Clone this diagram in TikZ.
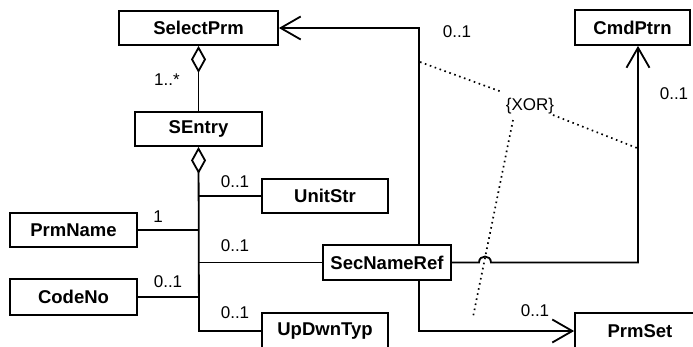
\documentclass[tikz,border=0pt]{standalone}
\usepackage{fontspec}
\setmainfont{Liberation Sans}
\usetikzlibrary{arrows.meta}
\begin{document}
\begin{tikzpicture}[x=1pt,y=-1pt,
  cls/.style={draw,line width=1.8pt,inner sep=0pt,font=\bfseries\fontsize{18.5}{20}\selectfont},
  lbl/.style={inner sep=0pt,font=\fontsize{17}{19}\selectfont},
  conn/.style={line width=1.8pt},
  agg/.style={conn,{Diamond[open,length=27pt,width=15pt,line width=1.8pt]}-},
  nav/.style={conn,-{Straight Barb[length=20pt,width=23pt,line width=1.8pt]}},
  dots/.style={line width=1.7pt,dash pattern=on 1.6pt off 3.6pt}]
\useasboundingbox (0,0) rectangle (693,346);
\clip (0,0) rectangle (693,346);
% classes
\node[cls,minimum width=159pt,minimum height=34pt] (sel) at (198.5,28) {SelectPrm};
\node[cls,minimum width=127pt,minimum height=34pt] (sen) at (198.5,129) {SEntry};
\node[cls,minimum width=126pt,minimum height=34pt] (uni) at (325,196) {UnitStr};
\node[cls,minimum width=127pt,minimum height=34pt] (prn) at (73.5,230) {PrmName};
\node[cls,minimum width=128pt,minimum height=35pt] (snr) at (387,262.5) {SecNameRef};
\node[cls,minimum width=127pt,minimum height=36pt] (cod) at (73.5,297) {CodeNo};
\node[cls,minimum width=126pt,minimum height=36pt] (udt) at (325,331) {UpDwnTyp};
\node[cls,minimum width=115pt,minimum height=35pt] (cmd) at (632.5,27.5) {CmdPtrn};
\node[cls,minimum width=130pt,minimum height=36pt] (pst) at (640,331) {PrmSet};
% aggregation
\draw[agg] (sel.south) -- (sen.north);
\coordinate (tb) at (199,331);
\draw[agg] (sen.south) -- (tb) -- (udt.west);
\draw[conn] (199,196) -- (uni.west);
\draw[conn] (prn.east) -- (199,230);
\draw[conn] (199,262.5) -- (snr.west);
\draw[conn] (cod.east) -- (199,297);
% SecNameRef navigations
\coordinate (st) at (419,28);
\coordinate (sb) at (419,331);
\coordinate (sr) at (638,262.5);
\draw[nav] (snr.north -| st) -- (st) -- (sel.east);
\draw[nav] (snr.south -| sb) -- (sb) -- (pst.west);
\draw[nav] (snr.east) -- (479,262.5) .. controls (479,254.5) and (491,254.5) .. (491,262.5) -- (sr) -- (sr |- cmd.south);
% multiplicities
\node[lbl] (m1) at (167,80) {1..*};
\node[lbl] (m2) at (235,182) {0..1};
\node[lbl] (m3) at (158,217) {1};
\node[lbl] (m4) at (235,246) {0..1};
\node[lbl] (m5) at (168,282) {0..1};
\node[lbl] (m6) at (235,313) {0..1};
\node[lbl] (m7) at (457,32) {0..1};
\node[lbl] (m8) at (674,94) {0..1};
\node[lbl] (m9) at (535,311) {0..1};
% XOR constraint
\node[lbl] (xor) at (530,106) {\{XOR\}};
\coordinate (x1) at (420,62);
\coordinate (x2) at (637,148);
\coordinate (x3) at (473,317);
\draw[dots] (x1) -- (502,92);
\draw[dots] (553,115) -- (x2);
\draw[dots] (513,120) -- (x3);
\end{tikzpicture}
\end{document}
